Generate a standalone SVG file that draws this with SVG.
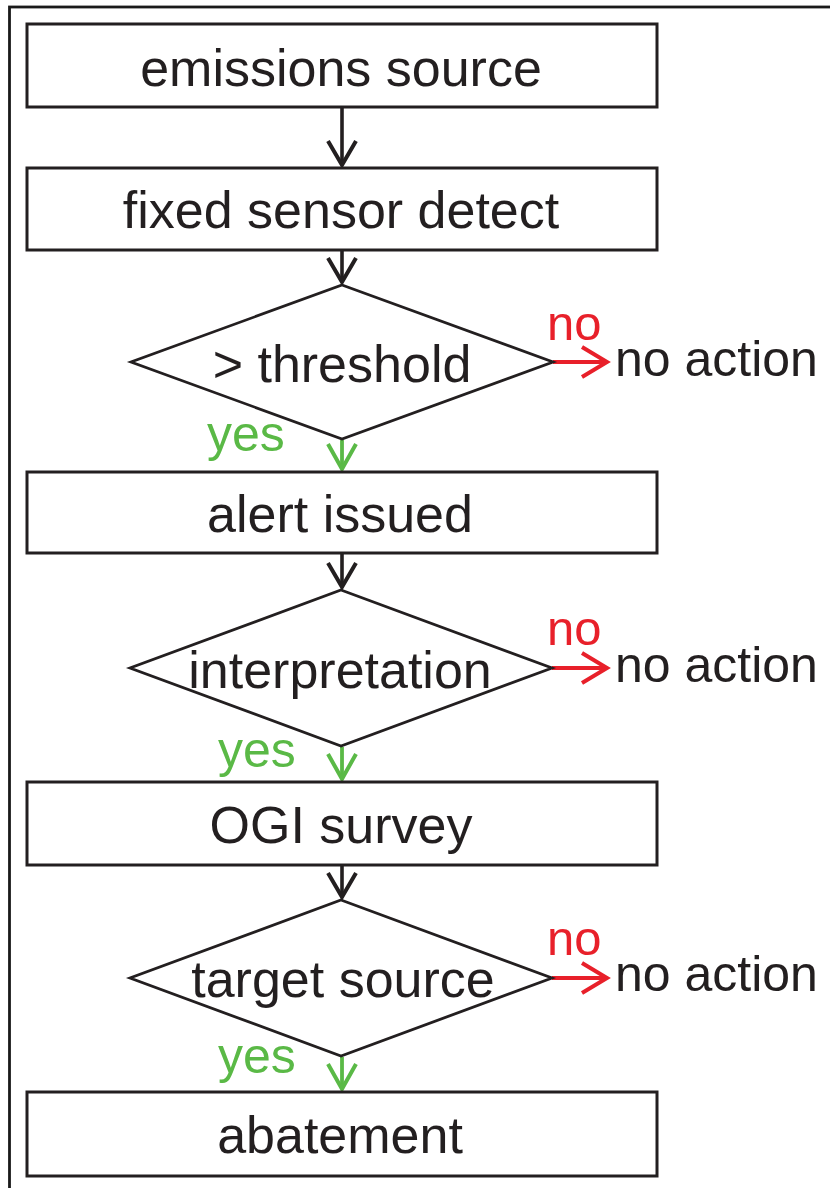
<svg xmlns="http://www.w3.org/2000/svg" width="830" height="1188" viewBox="0 0 830 1188">
<style>
.bg{fill:#ffffff}
.frame{fill:none;stroke:#1a1a1a;stroke-width:2.8}
.box{fill:#ffffff;stroke:#231f20;stroke-width:3}
.dia{fill:#ffffff;stroke:#231f20;stroke-width:2.8}
.t{font-family:"Liberation Sans",Arial,sans-serif;font-size:52px;fill:#231f20;text-anchor:middle}
.na{font-family:"Liberation Sans",Arial,sans-serif;font-size:50px;fill:#231f20}
.no{font-family:"Liberation Sans",Arial,sans-serif;font-size:49px;fill:#e8202a}
.yes{font-family:"Liberation Sans",Arial,sans-serif;font-size:50px;fill:#5ab946}
.cb{fill:none;stroke:#231f20;stroke-width:3.6}
.cr{fill:none;stroke:#e8202a;stroke-width:3.8}
.cg{fill:none;stroke:#5ab946;stroke-width:3.8}
</style>
<defs>
<marker id="hb" markerUnits="userSpaceOnUse" viewBox="-30 -20 34 40" refX="0" refY="0" markerWidth="34" markerHeight="40" orient="auto">
<path d="M-24,-14 L0,0 L-24,14" fill="none" stroke="#231f20" stroke-width="4"/>
</marker>
<marker id="hr" markerUnits="userSpaceOnUse" viewBox="-30 -20 34 40" refX="0" refY="0" markerWidth="34" markerHeight="40" orient="auto">
<path d="M-25,-15 L0,0 L-25,15" fill="none" stroke="#e8202a" stroke-width="4"/>
</marker>
<marker id="hg" markerUnits="userSpaceOnUse" viewBox="-30 -20 34 40" refX="0" refY="0" markerWidth="34" markerHeight="40" orient="auto">
<path d="M-25,-14 L0,0 L-25,14" fill="none" stroke="#5ab946" stroke-width="4"/>
</marker>
</defs>
<rect class="bg" x="0" y="0" width="830" height="1188"/>
<rect class="frame" x="9.5" y="7" width="900" height="1300"/>

<g id="connectors">
<line class="cb" x1="342" y1="107" x2="342" y2="165" marker-end="url(#hb)"/>
<line class="cb" x1="342" y1="250" x2="342" y2="282" marker-end="url(#hb)"/>
<line class="cg" x1="342" y1="440" x2="342" y2="469" marker-end="url(#hg)"/>
<line class="cr" x1="553" y1="362" x2="607" y2="362" marker-end="url(#hr)"/>
<line class="cb" x1="342" y1="553" x2="342" y2="587" marker-end="url(#hb)"/>
<line class="cg" x1="342" y1="747" x2="342" y2="779" marker-end="url(#hg)"/>
<line class="cr" x1="552" y1="668" x2="607" y2="668" marker-end="url(#hr)"/>
<line class="cb" x1="342" y1="865" x2="342" y2="897" marker-end="url(#hb)"/>
<line class="cg" x1="342" y1="1057" x2="342" y2="1089" marker-end="url(#hg)"/>
<line class="cr" x1="552" y1="978" x2="607" y2="978" marker-end="url(#hr)"/>
<text class="yes" x="207" y="451">yes</text>
<text class="no" x="547" y="340">no</text>
<text class="yes" x="218" y="767">yes</text>
<text class="no" x="547" y="645">no</text>
<text class="yes" x="218" y="1073">yes</text>
<text class="no" x="547" y="955">no</text>
</g>

<g id="emissions-source">
<rect class="box" x="27" y="24" width="630" height="83"/>
<text class="t" x="341" y="86">emissions source</text>
</g>
<g id="fixed-sensor-detect">
<rect class="box" x="27" y="168" width="630" height="82"/>
<text class="t" x="341" y="228">fixed sensor detect</text>
</g>
<g id="threshold">
<polygon class="dia" points="342,285 553,362 342,439 131,362"/>
<text class="t" x="342" y="382">&gt; threshold</text>
</g>
<g id="no-action-1">
<text class="na" x="615" y="376">no action</text>
</g>
<g id="alert-issued">
<rect class="box" x="27" y="472" width="630" height="81"/>
<text class="t" x="340" y="532">alert issued</text>
</g>
<g id="interpretation">
<polygon class="dia" points="341,590 552,668 341,746 130,668"/>
<text class="t" x="340" y="688">interpretation</text>
</g>
<g id="no-action-2">
<text class="na" x="615" y="682">no action</text>
</g>
<g id="ogi-survey">
<rect class="box" x="27" y="782" width="630" height="83"/>
<text class="t" x="341" y="843">OGI survey</text>
</g>
<g id="target-source">
<polygon class="dia" points="341,900 552,978 341,1056 130,978"/>
<text class="t" x="343" y="997">target source</text>
</g>
<g id="no-action-3">
<text class="na" x="615" y="991">no action</text>
</g>
<g id="abatement">
<rect class="box" x="27" y="1092" width="630" height="84"/>
<text class="t" x="340" y="1153">abatement</text>
</g>
</svg>
